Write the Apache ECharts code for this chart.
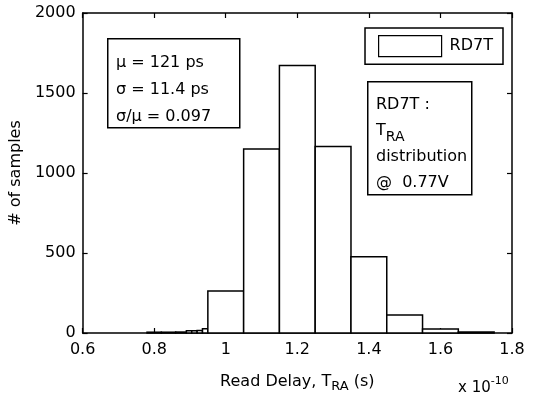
<!DOCTYPE html>
<html>
<head>
<meta charset="utf-8">
<script src="https://cdn.jsdelivr.net/npm/echarts@6/dist/echarts.min.js"></script>
<style>
html,body{margin:0;padding:0;background:#fff;}
#main{width:533px;height:398px;}
</style>
</head>
<body>
<div id="main"></div>
<script>
// histogram bins: left edge, right edge, count (x in units of 1e-10 s)
var binLeft  = [0.78, 0.82, 0.86, 0.89, 0.905, 0.92, 0.935, 0.95, 1.05, 1.15, 1.25, 1.35, 1.45, 1.55, 1.65];
var binRight = [0.82, 0.86, 0.89, 0.905, 0.92, 0.935, 0.95, 1.05, 1.15, 1.25, 1.35, 1.45, 1.55, 1.65, 1.75];
var counts   = [5, 5, 6, 14, 14, 16, 26, 262, 1150, 1672, 1165, 476, 112, 25, 6];

var xTicks = [0.6, 0.8, 1, 1.2, 1.4, 1.6, 1.8];
var yTicks = [0, 500, 1000, 1500, 2000];

var seriesName = 'RD7T';
var statLines = ['μ = 121 ps', 'σ = 11.4 ps', 'σ/μ = 0.097'];

var font = '"DejaVu Sans", sans-serif';

var bins = [];
for (var i = 0; i < counts.length; i++) {
    bins.push([binLeft[i], binRight[i], counts[i]]);
}

var myChart = echarts.init(document.getElementById('main'));

function fmt(v) {
    return String(parseFloat(Number(v).toFixed(1)));
}

var axisCommon = {
    axisLine: {show: true, onZero: false, lineStyle: {color: '#000', width: 1.5}},
    axisTick: {show: true, inside: true, length: 5, lineStyle: {color: '#000', width: 1.2}},
    splitLine: {show: false}
};

var option = {
    animation: false,
    backgroundColor: '#fff',
    grid: {left: 80, right: 21, top: 13, bottom: 63, containLabel: false},
    legend: {
        data: [{name: seriesName, icon: 'rect'}],
        right: 30,
        top: 28,
        itemWidth: 63,
        itemHeight: 21,
        padding: [7, 10, 7, 13],
        borderColor: '#000',
        borderWidth: 1.5,
        backgroundColor: '#fff',
        selectedMode: false,
        itemStyle: {color: '#fff', borderColor: '#000', borderWidth: 1.2},
        textStyle: {fontFamily: font, fontSize: 16, color: '#000', padding: [0, 0, 0, 3]}
    },
    xAxis: [
        Object.assign({}, axisCommon, {
            type: 'value', min: 0.6, max: 1.8, interval: 0.2, position: 'bottom',
            axisLabel: {formatter: fmt, fontFamily: font, fontSize: 16, color: '#000', margin: 9},
            name: 'Read Delay, T{sub|RA} (s)',
            nameLocation: 'middle',
            nameGap: 37,
            nameTextStyle: {
                fontFamily: font, fontSize: 16, color: '#000',
                rich: {sub: {fontFamily: font, fontSize: 13, color: '#000', padding: [10, 0, 0, 0]}}
            }
        }),
        Object.assign({}, axisCommon, {
            type: 'value', min: 0.6, max: 1.8, interval: 0.2, position: 'top',
            axisLabel: {show: false}
        })
    ],
    yAxis: [
        Object.assign({}, axisCommon, {
            type: 'value', min: 0, max: 2000, interval: 500, position: 'left',
            axisLabel: {formatter: function (v) { return String(v); }, fontFamily: font, fontSize: 16, color: '#000', margin: 7},
            name: '# of samples',
            nameLocation: 'middle',
            nameGap: 31,
            nameRotate: 90,
            nameTextStyle: {fontFamily: font, fontSize: 16, color: '#000'}
        }),
        Object.assign({}, axisCommon, {
            type: 'value', min: 0, max: 2000, interval: 500, position: 'right',
            axisLabel: {show: false}
        })
    ],
    series: [{
        name: seriesName,
        type: 'custom',
        xAxisIndex: 0,
        yAxisIndex: 0,
        itemStyle: {color: '#fff', borderColor: '#000', borderWidth: 1.5},
        renderItem: function (params, api) {
            var p0 = api.coord([api.value(0), api.value(2)]);
            var p1 = api.coord([api.value(1), 0]);
            return {
                type: 'rect',
                shape: {x: p0[0], y: p0[1], width: p1[0] - p0[0], height: p1[1] - p0[1]},
                style: {fill: '#fff', stroke: '#000', lineWidth: 1.5}
            };
        },
        encode: {x: [0, 1], y: 2},
        data: bins,
        z: 1
    }],
    graphic: [
        {
            type: 'rect', left: 107, top: 38, z: 10,
            shape: {width: 132, height: 89},
            style: {fill: '#fff', stroke: '#000', lineWidth: 1.5}
        },
        {
            type: 'text', left: 116, top: 49, z: 11,
            style: {text: statLines.join('\n'), fontFamily: font, fontSize: 16, lineHeight: 27, fill: '#000'}
        },
        {
            type: 'rect', left: 367, top: 81, z: 10,
            shape: {width: 104, height: 113},
            style: {fill: '#fff', stroke: '#000', lineWidth: 1.5}
        },
        {
            type: 'text', left: 376, top: 92, z: 11,
            style: {
                text: 'RD7T :\nT{sub|RA}\ndistribution\n@  0.77V',
                fontFamily: font, fontSize: 16, lineHeight: 26, fill: '#000',
                rich: {sub: {fontFamily: font, fontSize: 14, fill: '#000', padding: [12, 0, 0, 0]}}
            }
        },
        {
            type: 'text', left: 458, top: 376, z: 11,
            style: {
                text: 'x 10{sup|-10}',
                fontFamily: font, fontSize: 15, fill: '#000',
                rich: {sup: {fontFamily: font, fontSize: 11, fill: '#000', padding: [0, 0, 14, 0]}}
            }
        }
    ]
};

myChart.setOption(option);
</script>
</body>
</html>
